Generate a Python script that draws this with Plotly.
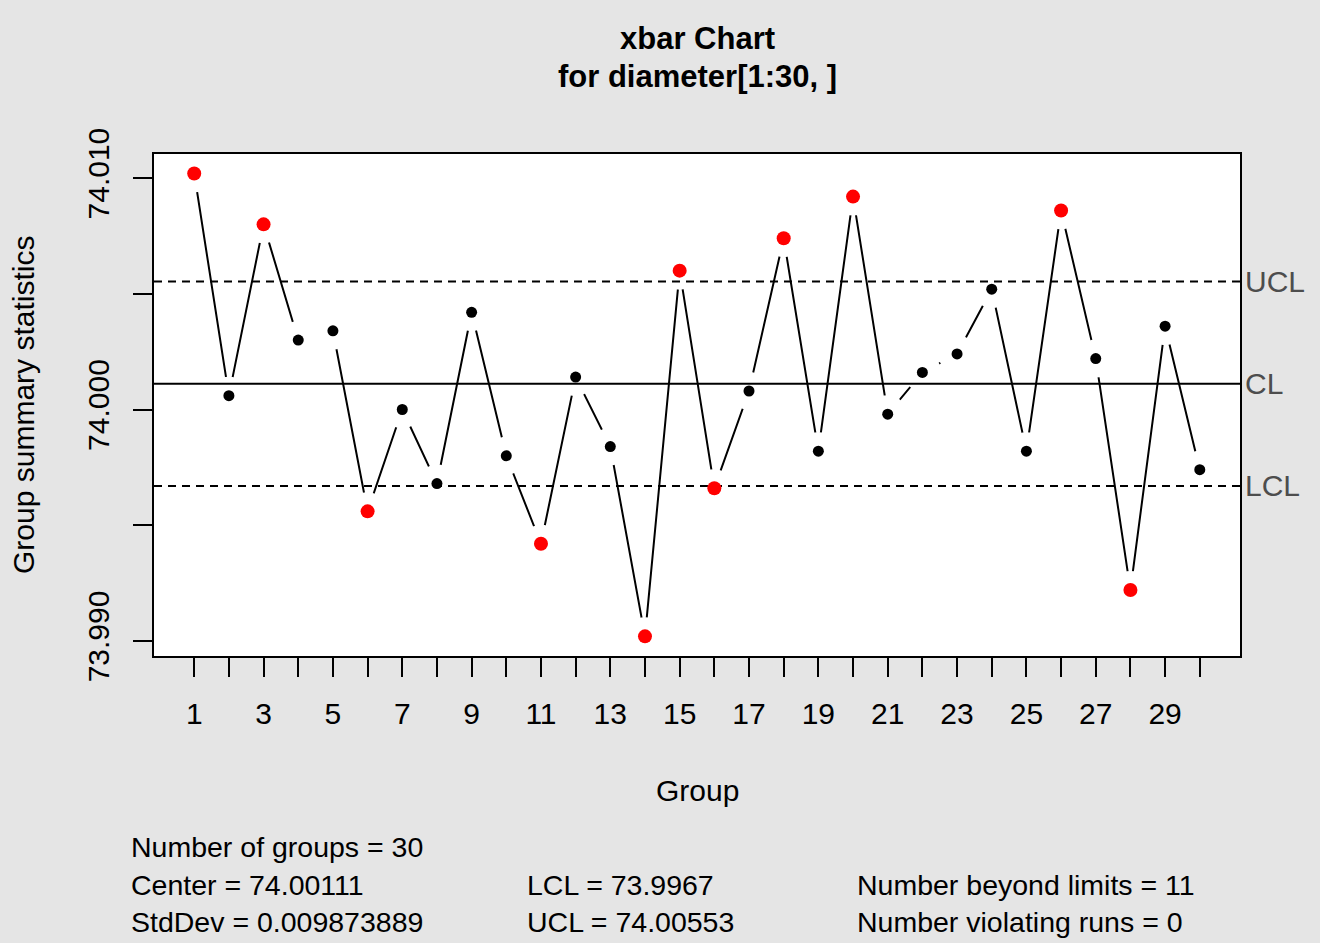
import plotly.graph_objects as go

groups = list(range(1, 31))
means = [74.0102, 74.0006, 74.0080, 74.0030, 74.0034, 73.9956, 74.0000, 73.9968,
         74.0042, 73.9980, 73.9942, 74.0014, 73.9984, 73.9902, 74.0060, 73.9966,
         74.0008, 74.0074, 73.9982, 74.0092, 73.9998, 74.0016, 74.0024, 74.0052,
         73.9982, 74.0086, 74.0022, 73.9922, 74.0036, 73.9974]
center = 74.00111
lcl = 73.9967
ucl = 74.00553
stats_left = ["Number of groups = 30", "Center = 74.00111", "StdDev = 0.009873889"]
stats_mid = ["", "LCL = 73.9967", "UCL = 74.00553"]
stats_right = ["", "Number beyond limits = 11", "Number violating runs = 0"]
y_tickvals = [73.990, 73.995, 74.000, 74.005, 74.010]
y_ticktext = ["73.990", "", "74.000", "", "74.010"]
x_tickvals = groups
x_ticktext = [str(g) if g % 2 == 1 else "" for g in groups]

x_range = [-0.16, 31.16]
y_range = [73.98935, 74.01104]

FONT = "Liberation Sans, Arial, sans-serif"
BG = "#e5e5e5"

beyond = [(g, m) for g, m in zip(groups, means) if m > ucl or m < lcl]
inside = [(g, m) for g, m in zip(groups, means) if lcl <= m <= ucl]

fig = go.Figure()
fig.add_trace(go.Scatter(x=groups, y=means, mode="lines",
                         line=dict(color="black", width=2), hoverinfo="skip"))
fig.add_trace(go.Scatter(x=groups, y=means, mode="markers",
                         marker=dict(color="white", size=38, line=dict(width=0)),
                         hoverinfo="skip"))
fig.add_trace(go.Scatter(x=x_range, y=[center, center], mode="lines",
                         line=dict(color="black", width=2), hoverinfo="skip"))
for lim in (ucl, lcl):
    fig.add_trace(go.Scatter(x=x_range, y=[lim, lim], mode="lines",
                             line=dict(color="black", width=2, dash="8px,6px"),
                             hoverinfo="skip"))
fig.add_trace(go.Scatter(x=[g for g, _ in inside], y=[m for _, m in inside], mode="markers",
                         marker=dict(color="black", size=11, line=dict(width=0))))
fig.add_trace(go.Scatter(x=[g for g, _ in beyond], y=[m for _, m in beyond], mode="markers",
                         marker=dict(color="#ff0000", size=14, line=dict(width=0))))

L, T, B_PX = 154, 154, 656

ann = []
for txt, py in (("<b>xbar Chart</b>", 38), ("<b>for diameter[1:30, ]</b>", 76)):
    ann.append(dict(text=txt, x=0.5, xref="paper", y=1, yref="paper", yanchor="middle",
                    yshift=T - py, showarrow=False,
                    font=dict(size=31, color="black", family=FONT)))

for lab, val in (("UCL", ucl), ("CL", center), ("LCL", lcl)):
    ann.append(dict(text=lab, x=1, xref="paper", y=val, yref="y", xanchor="left",
                    xshift=3, showarrow=False, yanchor="middle",
                    font=dict(size=30, color="#4d4d4d", family=FONT)))

ann.append(dict(text="Group", x=0.5, xref="paper", y=0, yref="paper", yanchor="middle",
                yshift=B_PX - 790, showarrow=False,
                font=dict(size=30, color="black", family=FONT)))
ann.append(dict(text="Group summary statistics", x=0, xref="paper", xanchor="center",
                xshift=23 - L, y=0.5, yref="paper", textangle=-90, showarrow=False,
                font=dict(size=30, color="black", family=FONT)))

rows_y = [847, 885, 922]
for col, xpx in ((stats_left, 129), (stats_mid, 525), (stats_right, 855)):
    for txt, ypx in zip(col, rows_y):
        if not txt:
            continue
        ann.append(dict(text=txt, x=0, xref="paper", xanchor="left", xshift=xpx - L,
                        y=0, yref="paper", yanchor="middle", yshift=B_PX - ypx,
                        showarrow=False, font=dict(size=28.5, color="black", family=FONT)))

fig.update_layout(
    width=1320, height=943,
    margin=dict(l=L, r=1320 - 1240, t=T, b=943 - B_PX),
    paper_bgcolor=BG, plot_bgcolor="white",
    showlegend=False,
    font=dict(family=FONT, color="black"),
    annotations=ann,
)
fig.update_xaxes(range=x_range, tickvals=x_tickvals, ticktext=x_ticktext,
                 ticks="outside", ticklen=19, tickwidth=2, tickcolor="black",
                 showline=True, linewidth=2, linecolor="black", mirror=True,
                 showgrid=False, zeroline=False,
                 tickfont=dict(size=30, color="black", family=FONT), ticklabelstandoff=11)
fig.update_yaxes(range=y_range, tickvals=y_tickvals, ticktext=y_ticktext,
                 ticks="outside", ticklen=19, tickwidth=2, tickcolor="black",
                 showline=True, linewidth=2, linecolor="black", mirror=True,
                 showgrid=False, zeroline=False, tickangle=-90,
                 tickfont=dict(size=30, color="black", family=FONT), ticklabelstandoff=12)

fig.write_html("out.html", config={"displayModeBar": False},
               post_script="document.body.style.margin='0px';document.body.style.overflow='hidden';")
